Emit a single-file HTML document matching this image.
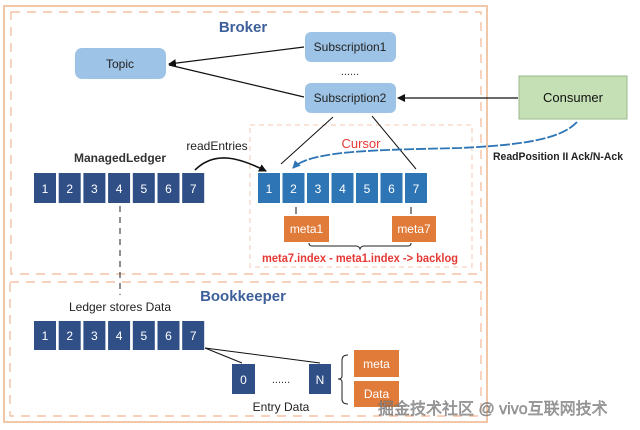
<!DOCTYPE html>
<html><head><meta charset="utf-8"><style>
html,body{margin:0;padding:0;background:#fff;}
svg{display:block;font-family:"Liberation Sans","Noto Sans CJK SC",sans-serif;}
</style></head><body>
<svg width="640" height="430" viewBox="0 0 640 430" xmlns="http://www.w3.org/2000/svg">
<defs>
<marker id="ah" markerWidth="8" markerHeight="8" refX="7" refY="4" orient="auto" markerUnits="userSpaceOnUse"><path d="M0,0 L8,4 L0,8z" fill="#111"/></marker>
<marker id="ab" markerWidth="8" markerHeight="8" refX="7" refY="4" orient="auto" markerUnits="userSpaceOnUse"><path d="M0,0 L8,4 L0,8z" fill="#2e75b6"/></marker>
</defs>
<rect x="4" y="6" width="483" height="416" fill="none" stroke="#f1c7a8" stroke-width="2"/>
<rect x="11" y="12" width="470" height="262" fill="none" stroke="#f0b895" stroke-width="1.2" stroke-dasharray="9,7"/>
<rect x="10" y="282" width="471" height="134" fill="none" stroke="#f0b895" stroke-width="1.2" stroke-dasharray="9,7"/>
<rect x="250" y="125" width="222" height="142" fill="none" stroke="#f0c8b0" stroke-width="1" stroke-dasharray="5,4"/>

<text x="243" y="32" font-size="15" font-weight="bold" fill="#3d5f9a" text-anchor="middle">Broker</text>
<text x="243" y="301" font-size="15" font-weight="bold" fill="#3d5f9a" text-anchor="middle">Bookkeeper</text>

<rect x="75" y="48" width="91" height="31" rx="7" fill="#9dc3e6"/>
<text x="120" y="68" font-size="12" text-anchor="middle" fill="#222">Topic</text>
<rect x="305" y="32" width="91" height="30" rx="6" fill="#9dc3e6"/>
<text x="350" y="51" font-size="12" text-anchor="middle" fill="#222">Subscription1</text>
<text x="350" y="75" font-size="11" text-anchor="middle" fill="#333">......</text>
<rect x="305" y="83" width="91" height="30" rx="6" fill="#9dc3e6"/>
<text x="350" y="102" font-size="12" text-anchor="middle" fill="#222">Subscription2</text>
<rect x="519" y="76" width="108" height="43" fill="#c5e0b4" stroke="#9bb88c"/>
<text x="573" y="102" font-size="13" text-anchor="middle" fill="#111">Consumer</text>

<line x1="304" y1="47" x2="169" y2="64" stroke="#111" stroke-width="1.2" marker-end="url(#ah)"/>
<line x1="304" y1="97" x2="169" y2="65" stroke="#111" stroke-width="1.2"/>
<line x1="518" y1="98" x2="398" y2="98" stroke="#111" stroke-width="1.2" marker-end="url(#ah)"/>
<line x1="333" y1="117" x2="281" y2="164" stroke="#111" stroke-width="1"/>
<line x1="372" y1="116" x2="416" y2="169" stroke="#111" stroke-width="1"/>

<path d="M577,122 C560,140 520,145 460,148 C380,150 310,150 293,168" fill="none" stroke="#2e75b6" stroke-width="1.8" stroke-dasharray="10,2" marker-end="url(#ab)"/>
<text x="493" y="160" font-size="11" font-weight="bold" fill="#222" textLength="130" lengthAdjust="spacingAndGlyphs">ReadPosition II Ack/N-Ack</text>

<text x="120" y="162" font-size="12" font-weight="bold" fill="#333" text-anchor="middle">ManagedLedger</text>
<text x="217" y="150" font-size="12" fill="#222" text-anchor="middle">readEntries</text>
<path d="M195,170 C215,150 240,158 266,171" fill="none" stroke="#111" stroke-width="1.6" marker-end="url(#ah)"/>
<text x="361" y="148" font-size="13" fill="#e53935" text-anchor="middle">Cursor</text>

<g fill="#2f4f86">
<rect x="34" y="173" width="22" height="30"/><rect x="58.7" y="173" width="22" height="30"/><rect x="83.4" y="173" width="22" height="30"/><rect x="108.1" y="173" width="22" height="30"/><rect x="132.8" y="173" width="22" height="30"/><rect x="157.5" y="173" width="22" height="30"/><rect x="182.2" y="173" width="22" height="30"/>
</g>
<g fill="#fff" font-size="12" text-anchor="middle">
<text x="45" y="193">1</text><text x="69.7" y="193">2</text><text x="94.4" y="193">3</text><text x="119.1" y="193">4</text><text x="143.8" y="193">5</text><text x="168.5" y="193">6</text><text x="193.2" y="193">7</text>
</g>

<g fill="#2e75b6">
<rect x="258" y="173" width="22" height="30"/><rect x="282.5" y="173" width="22" height="30"/><rect x="307" y="173" width="22" height="30"/><rect x="331.5" y="173" width="22" height="30"/><rect x="356" y="173" width="22" height="30"/><rect x="380.5" y="173" width="22" height="30"/><rect x="405" y="173" width="22" height="30"/>
</g>
<g fill="#fff" font-size="12" text-anchor="middle">
<text x="269" y="193">1</text><text x="293.5" y="193">2</text><text x="318" y="193">3</text><text x="342.5" y="193">4</text><text x="367" y="193">5</text><text x="391.5" y="193">6</text><text x="416" y="193">7</text>
</g>
<line x1="296" y1="207" x2="296" y2="214" stroke="#111"/>
<line x1="411" y1="207" x2="411" y2="214" stroke="#111"/>
<rect x="284" y="216" width="45" height="26" fill="#e07b39"/>
<text x="306.5" y="233" font-size="12" fill="#fff" text-anchor="middle">meta1</text>
<rect x="392" y="216" width="44" height="26" fill="#e07b39"/>
<text x="414" y="233" font-size="12" fill="#fff" text-anchor="middle">meta7</text>
<path d="M309,243 Q309,246 312,246 L356,246 Q359,246 360,249 Q361,246 364,246 L408,246 Q411,246 411,243" fill="none" stroke="#222" stroke-width="1"/>
<text x="262" y="262" font-size="12" font-weight="bold" fill="#e53935" textLength="196" lengthAdjust="spacingAndGlyphs">meta7.index - meta1.index -&gt; backlog</text>

<line x1="120" y1="206" x2="120" y2="295" stroke="#222" stroke-dasharray="6,5"/>
<text x="120" y="311" font-size="12" fill="#222" text-anchor="middle">Ledger stores Data</text>

<g fill="#2f4f86">
<rect x="34" y="321" width="22" height="29"/><rect x="58.7" y="321" width="22" height="29"/><rect x="83.4" y="321" width="22" height="29"/><rect x="108.1" y="321" width="22" height="29"/><rect x="132.8" y="321" width="22" height="29"/><rect x="157.5" y="321" width="22" height="29"/><rect x="182.2" y="321" width="22" height="29"/>
<rect x="232" y="364" width="23" height="30"/><rect x="309" y="364" width="22" height="30"/>
</g>
<g fill="#fff" font-size="12" text-anchor="middle">
<text x="45" y="340">1</text><text x="69.7" y="340">2</text><text x="94.4" y="340">3</text><text x="119.1" y="340">4</text><text x="143.8" y="340">5</text><text x="168.5" y="340">6</text><text x="193.2" y="340">7</text>
<text x="243.5" y="384">0</text><text x="320" y="384">N</text>
</g>
<line x1="205" y1="348" x2="242" y2="363" stroke="#111"/>
<line x1="205" y1="348" x2="320" y2="363" stroke="#111"/>
<text x="281" y="383" font-size="11" fill="#333" text-anchor="middle">......</text>
<text x="281" y="411" font-size="12" fill="#222" text-anchor="middle">Entry Data</text>
<path d="M348,355 Q342,355 342,360 L342,376 Q342,379 338,379 Q342,379 342,382 L342,399 Q342,404 348,404" fill="none" stroke="#222"/>
<rect x="354" y="350" width="45" height="27" fill="#e07b39"/>
<text x="376.5" y="368" font-size="12" fill="#fff" text-anchor="middle">meta</text>
<rect x="354" y="381" width="45" height="26" fill="#e07b39"/>
<text x="376.5" y="398" font-size="12" fill="#fff" text-anchor="middle">Data</text>

<text x="378" y="414" font-size="16" fill="#999" stroke="#555" stroke-width="0.4" opacity="0.85">掘金技术社区 @ vivo互联网技术</text>
</svg>
</body></html>
